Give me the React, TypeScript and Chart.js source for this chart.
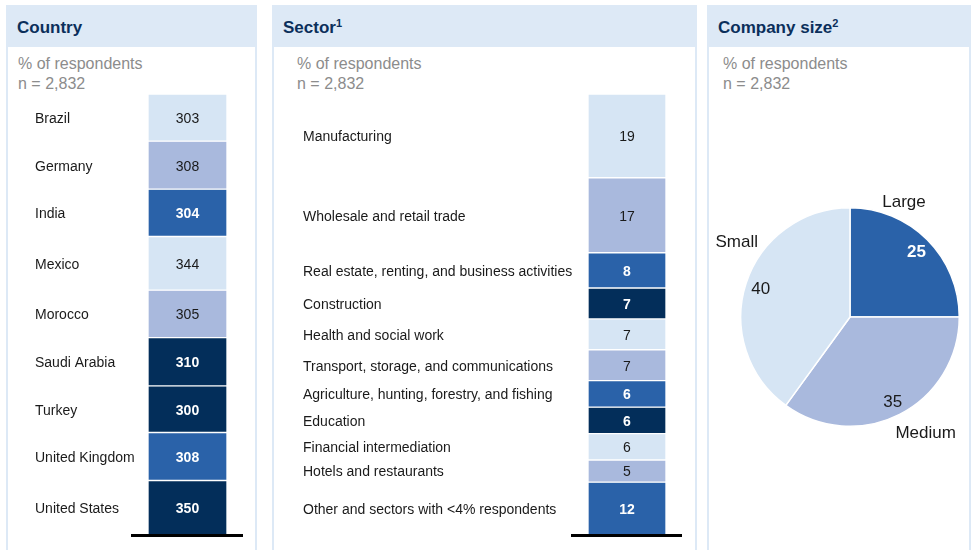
import React, { useEffect, useRef } from "react";
import { Chart, registerables } from "chart.js";
Chart.register(...registerables);

const countries = ["Brazil", "Germany", "India", "Mexico", "Morocco", "Saudi Arabia", "Turkey", "United Kingdom", "United States"];
const countryCounts = [303, 308, 304, 344, 305, 310, 300, 308, 350];
const countryShades = ["light", "lavender", "blue", "light", "lavender", "navy", "navy", "blue", "navy"];

const sectors = [
  "Manufacturing",
  "Wholesale and retail trade",
  "Real estate, renting, and business activities",
  "Construction",
  "Health and social work",
  "Transport, storage, and communications",
  "Agriculture, hunting, forestry, and fishing",
  "Education",
  "Financial intermediation",
  "Hotels and restaurants",
  "Other and sectors with <4% respondents",
];
const sectorShares = [19, 17, 8, 7, 7, 7, 6, 6, 6, 5, 12];
const sectorShades = ["light", "lavender", "blue", "navy", "light", "lavender", "blue", "navy", "light", "lavender", "blue"];

const sizes = ["Large", "Medium", "Small"];
const sizeShares = [25, 35, 40];
const sizeShades = ["blue", "lavender", "light"];

const PALETTE: Record<string, string> = {
  light: "#d6e5f4",
  lavender: "#a9b9dd",
  blue: "#2a62a9",
  navy: "#032e5a",
};
const DARK = new Set(["blue", "navy"]);
const FONT = '"Liberation Sans", Arial, Helvetica, sans-serif';
const HEADER_BG = "#dde9f6";
const TITLE_COLOR = "#0b2f5b";
const TEXT_DY = 1.5;

const stackLabelPlugin = {
  id: "stackLabels",
  afterDatasetsDraw(chart: any, _args: any, opts: any) {
    const ctx = chart.ctx;
    const area = chart.chartArea;
    ctx.save();
    ctx.textBaseline = "middle";
    chart.data.datasets.forEach((ds: any, i: number) => {
      const el = chart.getDatasetMeta(i).data[0];
      if (!el) return;
      const cy = (el.y + el.base) / 2 + TEXT_DY;
      ctx.font = `14px ${FONT}`;
      ctx.fillStyle = "#1a1a1a";
      ctx.textAlign = "left";
      ctx.fillText(ds.label, opts.labelX, cy);
      const dark = DARK.has(opts.shades[i]);
      ctx.font = `${dark ? "bold " : ""}14px ${FONT}`;
      ctx.fillStyle = dark ? "#ffffff" : "#1a1a1a";
      ctx.textAlign = "center";
      ctx.fillText(String(ds.data[0]), el.x, cy);
    });
    ctx.fillStyle = "#000000";
    ctx.fillRect(area.left - 17, area.bottom - 1, area.right - area.left + 33, 3);
    ctx.restore();
  },
};

const pieLabelPlugin = {
  id: "pieLabels",
  afterDatasetsDraw(chart: any, _args: any, opts: any) {
    const ctx = chart.ctx;
    const meta = chart.getDatasetMeta(0);
    ctx.save();
    ctx.textBaseline = "middle";
    ctx.textAlign = "center";
    meta.data.forEach((arc: any, i: number) => {
      const mid = (arc.startAngle + arc.endAngle) / 2;
      const R = arc.outerRadius;
      const dark = DARK.has(opts.shades[i]);
      ctx.font = `${dark ? "bold " : ""}17px ${FONT}`;
      ctx.fillStyle = dark ? "#ffffff" : "#1a1a1a";
      ctx.fillText(String(chart.data.datasets[0].data[i]), arc.x + Math.cos(mid) * R * 0.86, arc.y + Math.sin(mid) * R * 0.86 + TEXT_DY);
      const p = opts.namePlacement[i];
      const a = mid + (p.dAngle * Math.PI) / 180;
      ctx.font = `17px ${FONT}`;
      ctx.fillStyle = "#1a1a1a";
      ctx.fillText(chart.data.labels[i], arc.x + Math.cos(a) * R * p.r, arc.y + Math.sin(a) * R * p.r + TEXT_DY);
    });
    ctx.restore();
  },
};

function StackChart(props: { labels: string[]; values: number[]; shades: string[]; left: number; width: number; padding: any; labelX: number }) {
  const ref = useRef<HTMLCanvasElement | null>(null);
  useEffect(() => {
    const total = props.values.reduce((a, b) => a + b, 0);
    const chart = new Chart(ref.current as HTMLCanvasElement, {
      type: "bar",
      data: {
        labels: [""],
        datasets: props.labels.map((l, i) => ({
          label: l,
          data: [props.values[i]],
          backgroundColor: PALETTE[props.shades[i]],
          borderColor: "#ffffff",
          borderWidth: 1,
          borderSkipped: false,
          barPercentage: 1,
          categoryPercentage: 1,
        })),
      },
      options: {
        animation: false,
        responsive: false,
        maintainAspectRatio: false,
        layout: { padding: props.padding },
        plugins: {
          legend: { display: false },
          tooltip: { enabled: false },
          stackLabels: { labelX: props.labelX, shades: props.shades },
        } as any,
        scales: {
          x: { stacked: true, display: false },
          y: { stacked: true, display: false, reverse: true, min: 0, max: total },
        },
      },
      plugins: [stackLabelPlugin],
    });
    return () => chart.destroy();
  }, []);
  return (
    <canvas
      ref={ref}
      width={props.width}
      height={503}
      style={{ position: "absolute", left: props.left, top: 47, width: props.width, height: 503 }}
    />
  );
}

function PieChart() {
  const ref = useRef<HTMLCanvasElement | null>(null);
  useEffect(() => {
    const chart = new Chart(ref.current as HTMLCanvasElement, {
      type: "pie",
      data: {
        labels: sizes,
        datasets: [
          {
            data: sizeShares,
            backgroundColor: sizeShades.map((s) => PALETTE[s]),
            borderColor: "#ffffff",
            borderWidth: 1.5,
          },
        ],
      },
      options: {
        animation: false,
        responsive: false,
        maintainAspectRatio: false,
        layout: { padding: { left: 31, right: 9, top: 160, bottom: 123 } },
        plugins: {
          legend: { display: false },
          tooltip: { enabled: false },
          pieLabels: {
            shades: sizeShades,
            namePlacement: [
              { dAngle: -20, r: 1.17 },
              { dAngle: -6.5, r: 1.255 },
              { dAngle: 16, r: 1.25 },
            ],
          },
        } as any,
      },
      plugins: [pieLabelPlugin],
    });
    return () => chart.destroy();
  }, []);
  return (
    <canvas ref={ref} width={260} height={503} style={{ position: "absolute", left: 709, top: 47, width: 260, height: 503 }} />
  );
}

function Panel(props: { left: number; width: number; title: string; sup?: string; subLeft: number }) {
  return (
    <>
      <div style={{ position: "absolute", left: props.left, top: 5, width: props.width, height: 545, background: HEADER_BG }} />
      <div style={{ position: "absolute", left: props.left + 2, top: 47, width: props.width - 4, height: 503, background: "#ffffff" }} />
      <div
        style={{
          position: "absolute",
          left: props.left + 11,
          top: 17,
          lineHeight: "22px",
          fontFamily: FONT,
          fontWeight: "bold",
          fontSize: 17,
          color: TITLE_COLOR,
          whiteSpace: "nowrap",
        }}
      >
        {props.title}
        {props.sup ? <sup style={{ fontSize: 11, verticalAlign: "6px", lineHeight: 0 }}>{props.sup}</sup> : null}
      </div>
      <div
        style={{
          position: "absolute",
          left: props.subLeft,
          top: 54,
          lineHeight: "20px",
          fontFamily: FONT,
          fontSize: 16,
          color: "#8c8c8c",
          whiteSpace: "nowrap",
        }}
      >
        <div>% of respondents</div>
        <div>n = 2,832</div>
      </div>
    </>
  );
}

export default function App() {
  return (
    <div style={{ position: "absolute", left: 0, top: 0, width: 972, height: 550, background: "#ffffff", overflow: "hidden" }}>
      <Panel left={6} width={251} title="Country" subLeft={18} />
      <Panel left={272} width={425} title="Sector" sup="1" subLeft={297} />
      <Panel left={707} width={264} title="Company size" sup="2" subLeft={723} />
      <StackChart
        labels={countries}
        values={countryCounts}
        shades={countryShades}
        left={8}
        width={248}
        padding={{ left: 140, right: 29, top: 47, bottom: 15 }}
        labelX={27}
      />
      <StackChart
        labels={sectors}
        values={sectorShares}
        shades={sectorShades}
        left={274}
        width={421}
        padding={{ left: 314, right: 29, top: 47, bottom: 15 }}
        labelX={29}
      />
      <PieChart />
    </div>
  );
}
